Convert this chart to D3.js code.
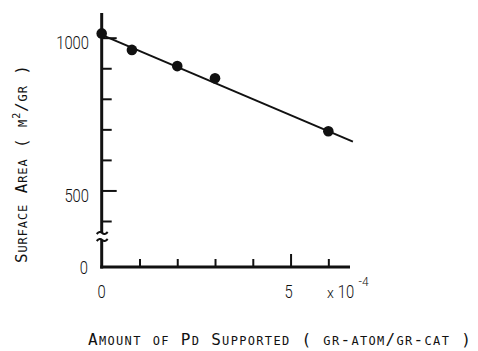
<!DOCTYPE html>
<html>
<head>
<meta charset="utf-8">
<script src="https://cdn.jsdelivr.net/npm/d3@7/dist/d3.min.js"></script>
<style>
  html, body { margin: 0; padding: 0; background: #fff; }
  svg { display: block; }
  text { fill: #111; font-family: "DejaVu Sans Mono", monospace; }
  text.num { font-family: Roboto, "DejaVu Sans", sans-serif; font-weight: 300; }
</style>
</head>
<body>
<svg id="chart" width="478" height="351"></svg>
<script>
// Pd loading (x 10^-4 gr-atom/gr-cat) and measured surface area (m^2/gr)
const pdAmount = [0, 0.8, 2, 3, 6];
const surfaceArea = [1014, 960, 907, 867, 694];

// straight-line fit drawn through the points
const fitAmount = [0, 6.65];
const fitArea = [1009, 660];

// axis ticks
const yMinorTicks = [400, 600, 700, 800, 900];
const yMajorTicks = [500, 1000];
const yTickLabels = ["500", "1000"];
const xMinorTicks = [1, 2, 3, 4, 6];
const xMajorTicks = [5];
const xTickLabels = ["0", "5"];
const xAxisTitle = "Amount of Pd Supported ( gr-atom/gr-cat )";
const yAxisTitle = ["Surface Area ( m", "2", "/gr )"];

const svg = d3.select("#chart");

const x = d3.scaleLinear().domain([0, 6.6]).range([101.7, 351]);
const y = d3.scaleLinear().domain([400, 1000]).range([221, 37.7]);
const yBase = 267;      // position of the zero line below the axis break
const yAxisTop = 13;
const breakTop = 233, breakBottom = 240;

const ink = "#111";

// ---- vertical axis (broken) ----
svg.append("line")
  .attr("x1", x(0)).attr("x2", x(0))
  .attr("y1", yAxisTop).attr("y2", breakTop)
  .attr("stroke", ink).attr("stroke-width", 3);
svg.append("line")
  .attr("x1", x(0)).attr("x2", x(0))
  .attr("y1", breakBottom).attr("y2", yBase + 1.5)
  .attr("stroke", ink).attr("stroke-width", 3);

// break marks
[breakTop, breakBottom].forEach(yy => {
  svg.append("path")
    .attr("d", `M${x(0) - 5},${yy + 1} q3,-3.5 5.5,-1 t5.5,-1`)
    .attr("fill", "none").attr("stroke", ink).attr("stroke-width", 2);
});

const yMinor = svg.append("g").attr("transform", `translate(${x(0)},0)`)
  .call(d3.axisRight(y).tickValues(yMinorTicks).tickSize(10).tickFormat(""));
const yMajor = svg.append("g").attr("transform", `translate(${x(0)},0)`)
  .call(d3.axisRight(y).tickValues(yMajorTicks).tickSize(15).tickFormat(""));
[yMinor, yMajor].forEach(g => {
  g.select(".domain").remove();
  g.selectAll(".tick line").attr("stroke", ink).attr("stroke-width", 2);
});

// ---- horizontal axis ----
svg.append("line")
  .attr("x1", x(0) - 1.5).attr("x2", 350)
  .attr("y1", yBase).attr("y2", yBase)
  .attr("stroke", ink).attr("stroke-width", 3);

const xMinor = svg.append("g").attr("transform", `translate(0,${yBase})`)
  .call(d3.axisTop(x).tickValues(xMinorTicks).tickSize(8).tickFormat(""));
const xMajor = svg.append("g").attr("transform", `translate(0,${yBase})`)
  .call(d3.axisTop(x).tickValues(xMajorTicks).tickSize(13).tickFormat(""));
[xMinor, xMajor].forEach(g => {
  g.select(".domain").remove();
  g.selectAll(".tick line").attr("stroke", ink).attr("stroke-width", 2);
});

// ---- tick labels (narrow typewriter digits) ----
const digitW = 8.2;
svg.selectAll("text.ylab").data(yTickLabels).join("text")
  .attr("class", "ylab num")
  .attr("x", 89).attr("y", d => y(+d) + 11.5)
  .attr("text-anchor", "end")
  .attr("font-size", 18.5)
  .attr("textLength", d => d.length * digitW)
  .attr("lengthAdjust", "spacingAndGlyphs")
  .text(d => d);
svg.append("text")
  .attr("class", "num")
  .attr("x", 88).attr("y", yBase + 7)
  .attr("text-anchor", "end").attr("font-size", 18.5)
  .attr("textLength", digitW).attr("lengthAdjust", "spacingAndGlyphs")
  .text("0");

svg.selectAll("text.xlab").data(xTickLabels).join("text")
  .attr("class", "xlab num")
  .attr("x", d => x(+d) - (+d ? 2 : 0)).attr("y", 297.5)
  .attr("text-anchor", "middle")
  .attr("font-size", 18.5)
  .attr("textLength", d => d.length * digitW)
  .attr("lengthAdjust", "spacingAndGlyphs")
  .text(d => d);

// multiplier "x 10^-4"
const mult = svg.append("text").attr("class", "num")
  .attr("x", 327).attr("y", 297.5).attr("font-size", 18.5);
mult.append("tspan").attr("font-size", 14).text("x");
mult.append("tspan").attr("dx", 4).attr("font-size", 18.5)
  .attr("textLength", 2 * digitW).attr("lengthAdjust", "spacingAndGlyphs").text("10");
svg.append("text").attr("class", "num")
  .attr("x", 358.5).attr("y", 285.5).attr("font-size", 12).text("-4");

// ---- small-caps axis titles ----
function smallCaps(textSel, str, big, small) {
  for (const ch of str) {
    const isLower = ch !== ch.toUpperCase();
    textSel.append("tspan")
      .attr("font-size", isLower ? small : big)
      .text(ch.toUpperCase());
  }
}
function spreadTo(textSel, target) {
  const node = textSel.node();
  const w = node.getComputedTextLength();
  const n = node.textContent.length;
  textSel.attr("letter-spacing", ((target - w) / (n - 1)).toFixed(2) + "px");
}

const xTitle = svg.append("text")
  .attr("x", 88).attr("y", 345);
smallCaps(xTitle, xAxisTitle, 16, 12);
spreadTo(xTitle, 383);

const yTitle = svg.append("text")
  .attr("transform", "translate(27,263) rotate(-90)");
smallCaps(yTitle, yAxisTitle[0], 16, 12);
yTitle.append("tspan").attr("class", "sup").attr("font-size", 10).attr("dy", -7).text(yAxisTitle[1]);
smallCaps(yTitle, yAxisTitle[2], 16, 12);
spreadTo(yTitle, 198);
// return to the baseline after the superscript
const supNode = yTitle.select("tspan.sup").node();
d3.select(supNode.nextSibling).attr("dy", 7);

// ---- fitted line ----
const line = d3.line().x(d => x(d[0])).y(d => y(d[1]));
svg.append("path")
  .datum(d3.zip(fitAmount, fitArea))
  .attr("d", line)
  .attr("fill", "none").attr("stroke", ink).attr("stroke-width", 2);

// ---- data points ----
svg.selectAll("circle.pt").data(d3.zip(pdAmount, surfaceArea)).join("circle")
  .attr("class", "pt")
  .attr("cx", d => x(d[0])).attr("cy", d => y(d[1]))
  .attr("r", 5.3).attr("fill", ink);
</script>
</body>
</html>
